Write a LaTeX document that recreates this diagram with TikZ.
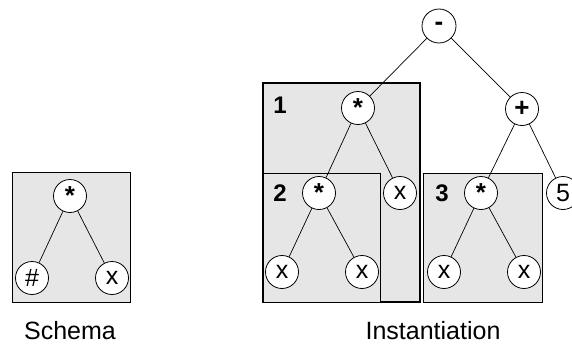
\documentclass[tikz,border=0pt]{standalone}
\usepackage{fontspec}
\setmainfont{Liberation Sans}
\definecolor{boxgray}{HTML}{E6E6E6}
\newcommand{\midstar}{\raisebox{-6pt}{*}}
\begin{document}
\begin{tikzpicture}[x=1pt,y=-1pt,
  tn/.style={circle,draw=black,fill=white,line width=0.8pt,minimum size=33pt,inner sep=0pt,font=\fontsize{25}{25}\selectfont},
  op/.style={tn,font=\fontsize{26}{26}\selectfont\bfseries},
  gbox/.style={draw=black,fill=boxgray,line width=0.9pt},
  num/.style={font=\fontsize{24}{24}\selectfont\bfseries},
  caption/.style={font=\fontsize{25}{25}\selectfont},
  edge/.style={line width=0.7pt}]
\useasboundingbox (0,0) rectangle (572,351);
\begin{scope}
\clip (0,0) rectangle (572,351);
% boxes
\draw[gbox] (12,172) rectangle (130,302);
\draw[gbox,line width=1.2pt] (263,83) rectangle (420,302);
\draw[gbox] (263,173) rectangle (380,302);
\draw[gbox] (423,173) rectangle (542,302);
% schema
\node[op] (s) at (70,196) {\midstar};
\node[tn] (sh) at (32,278) {\#};
\node[tn] (sx) at (112,278) {x};
\draw[edge] (s) -- (sh);
\draw[edge] (s) -- (sx);
% instantiation
\node[op,minimum size=34pt] (m) at (439,26) {-};
\node[op] (a) at (358,108) {\midstar};
\node[op] (p) at (522,109) {+};
\node[op] (b) at (319,193) {\midstar};
\node[tn] (ax) at (400,193) {x};
\node[op] (c) at (481,193) {\midstar};
\node[tn] (five) at (563,193) {5};
\node[tn] (bx1) at (282,272) {x};
\node[tn] (bx2) at (362,272) {x};
\node[tn] (cx1) at (444,272) {x};
\node[tn] (cx2) at (524,272) {x};
\draw[edge] (m) -- (a);
\draw[edge] (m) -- (p);
\draw[edge] (a) -- (b);
\draw[edge] (a) -- (ax);
\draw[edge] (p) -- (c);
\draw[edge] (p) -- (five);
\draw[edge] (b) -- (bx1);
\draw[edge] (b) -- (bx2);
\draw[edge] (c) -- (cx1);
\draw[edge] (c) -- (cx2);
% numbers
\node[num] (n1) at (280,105) {1};
\node[num] (n2) at (280,193) {2};
\node[num] (n3) at (442,193) {3};
% captions
\node[caption] (l1) at (70,331) {Schema};
\node[caption] (l2) at (433,331) {Instantiation};
\end{scope}
\end{tikzpicture}
\end{document}
